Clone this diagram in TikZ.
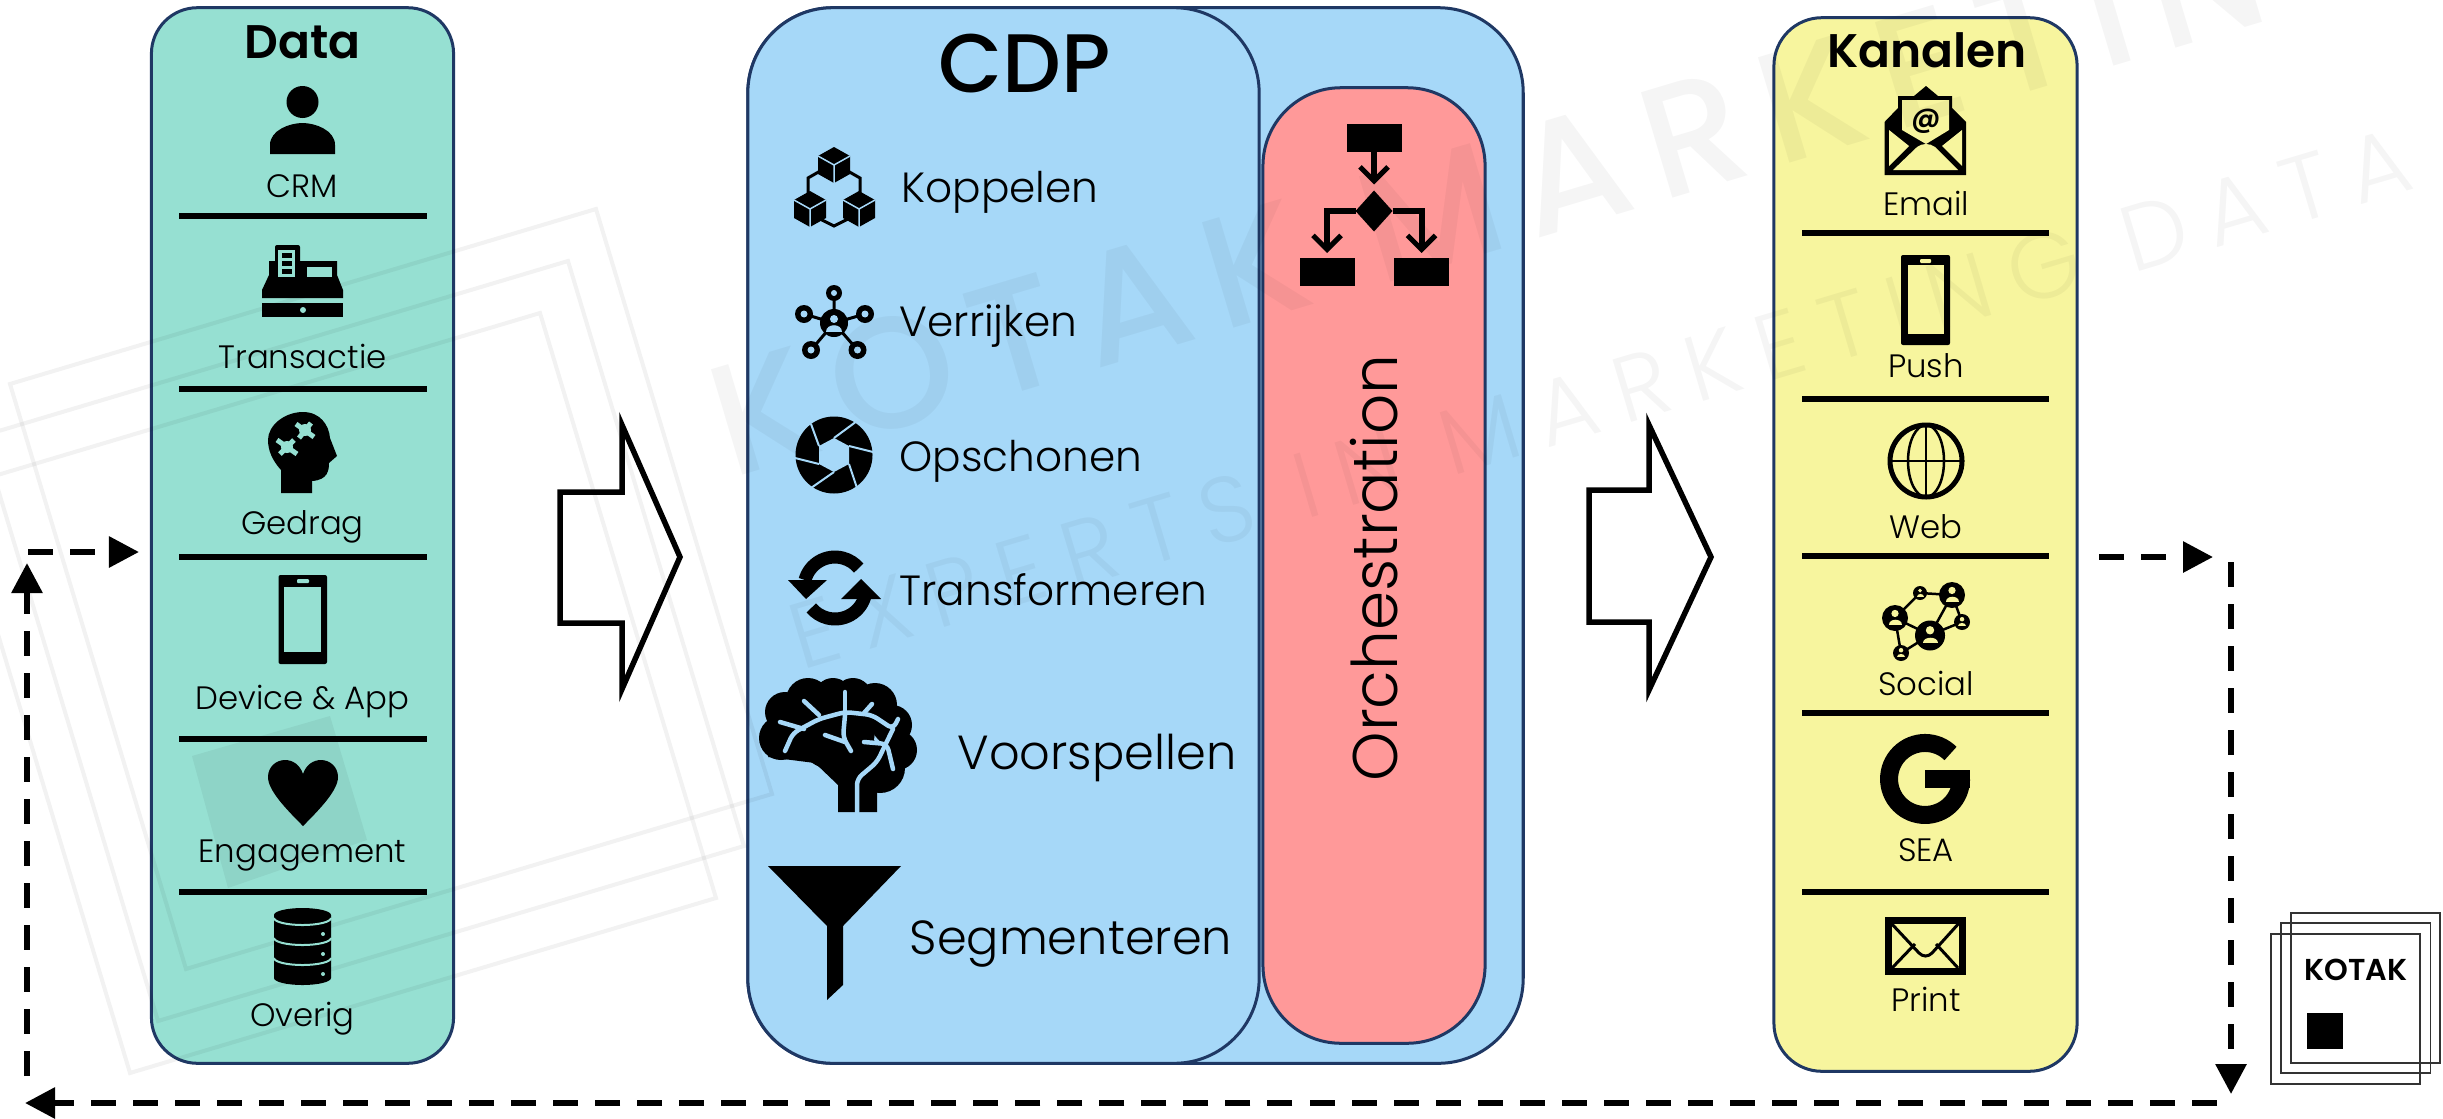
\documentclass[tikz,border=0pt]{standalone}
\usepackage{fontspec}
\usetikzlibrary{arrows.meta,shapes.geometric}
\setmainfont{Poppins Light}[BoldFont=Poppins SemiBold]
\newfontfamily\markfont{Poppins Medium}[LetterSpace=14]
\newfontfamily\marklight{Poppins Light}[LetterSpace=22]
\newfontfamily\midfont{Poppins Medium}
\definecolor{datacol}{HTML}{96E0D2}
\definecolor{cdpcol}{HTML}{A6D8F8}
\definecolor{orchcol}{HTML}{FF9999}
\definecolor{chancol}{HTML}{F7F59E}
\definecolor{edgecol}{HTML}{1F3864}
\tikzset{
    panel/.style={draw=edgecol, line width=0.03cm, inner sep=0pt, outer sep=0pt},
    divider/.style={line width=0.06cm},
    itemlabel/.style={inner sep=0pt, text height=0.72em, text depth=0.22em, font=\fontsize{9.2}{11}\selectfont},
    cdplabel/.style={inner sep=0pt, anchor=west, text height=0.72em, text depth=0.22em, font=\fontsize{12}{15}\selectfont},
    cdplarge/.style={cdplabel, font=\fontsize{13.6}{16}\selectfont},
    titlelabel/.style={inner sep=0pt, font=\fontsize{13.4}{15}\selectfont\bfseries},
    bigarrow/.style={draw=black, fill=white, line width=0.055cm, miter limit=20},
    loopline/.style={-{Triangle[length=0.3cm,width=0.3cm]}, line width=0.06cm, dash pattern=on 0.25cm off 0.17cm},
    flowbox/.style={fill=black, minimum width=0.55cm, minimum height=0.28cm, inner sep=0pt, outer sep=0pt},
    flowarrow/.style={-{Straight Barb[length=0.14cm,width=0.28cm,line width=0.05cm]}, line width=0.06cm},
    wmline/.style={black, opacity=0.05, line width=0.04cm},
    wmtext/.style={black, text opacity=0.04, inner sep=0pt},
    logorect/.style={draw=black!80, line width=0.018cm},
    veinline/.style={cdpcol, line width=0.045cm, line cap=round, line join=round, rounded corners=0.06cm},
    cubeicon/.pic={
        \fill (0,-18) -- (16,-9) -- (16,9) -- (0,18) -- (-16,9) -- (-16,-9) -- cycle;
        \draw[cdpcol, line width=0.015cm] (-16,-9) -- (0,0) -- (16,-9) (0,0) -- (0,18);
    },
    socialicon/.pic={
        \fill (0,0) circle (1);
        \fill[chancol] (0,-0.35) circle (0.28);
        \fill[chancol] (-0.5,0.5) .. controls (-0.5,0) and (0.5,0) .. (0.5,0.5) -- cycle;
    },
}

\begin{document}
\begin{tikzpicture}[x=0.01cm, y=-0.01cm]
    \useasboundingbox (0,0) rectangle (2443,1118);

    % columns
    \node (data) [panel, fill=datacol, rounded corners=0.46cm, minimum width=3.02cm, minimum height=10.55cm] at (302.5,535.5) {};
    \node (outer) [panel, fill=cdpcol, rounded corners=0.85cm, minimum width=7.75cm, minimum height=10.55cm] at (1135.5,535.5) {};
    \node (cdp) [panel, fill=cdpcol, rounded corners=0.85cm, minimum width=5.11cm, minimum height=10.55cm] at (1003.5,535.5) {};
    \node (orch) [panel, fill=orchcol, rounded corners=0.78cm, minimum width=2.22cm, minimum height=9.55cm] at (1374,565.5) {};
    \node (chan) [panel, fill=chancol, rounded corners=0.48cm, minimum width=3.03cm, minimum height=10.53cm] at (1925.5,544.5) {};

    % big arrows
    \draw[bigarrow] (560,492) -- (622,492) -- (622,425) -- (680,557) -- (622,689) -- (622,623) -- (560,623) -- cycle;
    \draw[bigarrow] (1589,490) -- (1649,490) -- (1649,425) -- (1711,557) -- (1649,690) -- (1649,622) -- (1589,622) -- cycle;

    % data column
    \node (datatitle) [titlelabel] at (302.5,42) {Data};
    \node (crm) [itemlabel] at (302.5,189) {CRM};
    \node (trans) [itemlabel] at (302.5,360) {Transactie};
    \node (gedrag) [itemlabel] at (302.5,526) {Gedrag};
    \node (device) [itemlabel] at (302.5,701) {Device \& App};
    \node (engage) [itemlabel] at (302.5,854) {Engagement};
    \node (overig) [itemlabel] at (302.5,1018) {Overig};
    \draw[divider] (179,216) -- (427,216);
    \draw[divider] (179,389) -- (427,389);
    \draw[divider] (179,557) -- (427,557);
    \draw[divider] (179,739) -- (427,739);
    \draw[divider] (179,892) -- (427,892);

    % person
    \fill (302.5,102) circle (16);
    \fill (270,154) -- (270,145) .. controls (270,130) and (290,123) .. (302.5,123) .. controls (315,123) and (335,130) .. (335,145) -- (335,154) -- cycle;
    % till
    \fill[rounded corners=0.02cm] (275,245) rectangle (300,270);
    \fill (262,298) -- (262,290) -- (269,275) -- (269,261) -- (337,261) -- (337,275) -- (343,290) -- (343,298) -- cycle;
    \fill (262,303) rectangle (343,317);
    \fill[datacol] (278,250) rectangle (295,277);
    \fill (282,253) rectangle (292,258);
    \fill (282,261) rectangle (292,266);
    \fill (282,269) rectangle (292,274);
    \fill[datacol] (307,267) rectangle (332,277);
    \fill[datacol] (303,310) circle (3);
    % head with puzzle pieces
    \fill (281,493) -- (281,470) .. controls (272,460) and (268,450) .. (268,440) .. controls (268,425) and (285,412) .. (303,412) .. controls (320,412) and (329,425) .. (330,438) -- (337,456) -- (329,463) .. controls (329,470) and (328,480) .. (312,481) -- (312,493) -- cycle;
    \draw[datacol, line width=0.05cm] (277,440) -- (297,454) (280,454) -- (294,440);
    \draw[datacol, line width=0.05cm] (296,424) -- (314,437) (299,438) -- (311,423);
    \fill[datacol] (287,447) circle (6);
    \fill[datacol] (305,430) circle (6);
    % phone
    \fill[rounded corners=0.02cm] (278.5,575) rectangle (327,664);
    \fill[datacol] (284,587) rectangle (321,652);
    \fill[datacol, rounded corners=0.01cm] (297,579) rectangle (309,583);
    % heart
    \fill (303,826) .. controls (285,808) and (268,790) .. (268,777) .. controls (268,767) and (276,760) .. (285,760) .. controls (293,760) and (300,765) .. (303,774) .. controls (306,765) and (313,760) .. (321,760) .. controls (330,760) and (338,767) .. (338,777) .. controls (338,790) and (321,808) .. (303,826);
    % database
    \fill (302.5,915) ellipse (28.5 and 7);
    \fill (274,915) -- (274,978) arc[start angle=180, end angle=0, x radius=28.5, y radius=7] -- (331,915) -- cycle;
    \draw[datacol, line width=0.02cm] (274,918) arc[start angle=180, end angle=0, x radius=28.5, y radius=7];
    \draw[datacol, line width=0.02cm] (274,938) arc[start angle=180, end angle=0, x radius=28.5, y radius=7];
    \draw[datacol, line width=0.02cm] (274,958) arc[start angle=180, end angle=0, x radius=28.5, y radius=7];
    \fill[datacol] (323,934) circle (2);
    \fill[datacol] (323,954) circle (2);
    \fill[datacol] (323,974) circle (2);

    % cdp column
    \node (cdptitle) [inner sep=0pt, font=\fontsize{23.6}{26}\selectfont\midfont] at (1025,64) {CDP};
    \node (koppelen) [cdplabel] at (901,194) {Koppelen};
    \node (verrijken) [cdplabel] at (899,328) {Verrijken};
    \node (opschonen) [cdplabel] at (899,463) {Opschonen};
    \node (transform) [cdplabel] at (899,597) {Transformeren};
    \node (voorspel) [cdplarge] at (957,761) {Voorspellen};
    \node (segment) [cdplarge] at (909,946) {Segmenteren};
    % cubes
    \pic at (834,165) {cubeicon};
    \pic at (810,209) {cubeicon};
    \pic at (859,209) {cubeicon};
    \draw[line width=0.03cm] (822,170) -- (808,178) -- (808,196);
    \draw[line width=0.03cm] (846,170) -- (860,178) -- (860,196);
    \draw[line width=0.03cm] (818,218) -- (834,226) -- (850,218);
    % network
    \draw[line width=0.03cm] (834,291) -- (834,323) -- (804,314);
    \draw[line width=0.03cm] (811,350) -- (834,323) -- (865,314);
    \draw[line width=0.03cm] (834,323) -- (857.5,350);
    \fill (834,323) circle (14);
    \fill (834,293) circle (8);
    \fill (804,314) circle (9);
    \fill (865,314) circle (9);
    \fill (811,350) circle (9);
    \fill (857.5,350) circle (9);
    \fill[cdpcol] (834,319) circle (4);
    \fill[cdpcol] (826,332) .. controls (826,323) and (842,323) .. (842,332) -- cycle;
    \fill[cdpcol] (834,293) circle (3);
    \fill[cdpcol] (804,314) circle (3.5);
    \fill[cdpcol] (865,314) circle (3.5);
    \fill[cdpcol] (811,350) circle (3.5);
    \fill[cdpcol] (857.5,350) circle (3.5);
    % aperture
    \fill (834,455) circle (38.5);
    \draw[cdpcol, line width=0.02cm] (819,446) -- (811,424) (834,438) -- (857,421) (849,446) -- (873,452) (849,464) -- (857,488) (834,472) -- (811,488) (819,464) -- (795,458);
    \fill[cdpcol] (819,446) -- (834,438) -- (849,446) -- (849,464) -- (834,472) -- (819,464) -- cycle;
    % refresh
    \draw[line width=0.13cm] (805,580) arc[start angle=195, end angle=320, radius=31];
    \draw[line width=0.13cm] (865,596) arc[start angle=15, end angle=140, radius=31];
    \fill (788,580) -- (827,580) -- (806,599) -- cycle;
    \fill (841,599) -- (881,599) -- (861,579) -- cycle;
    % brain
    \fill (781,738) circle (22);
    \fill (785,712) circle (20);
    \fill (808,700) circle (22);
    \fill (833,697) circle (19);
    \fill (853,697) circle (19);
    \fill (875,705) circle (22);
    \fill (892,725) circle (20);
    \fill (897,750) circle (20);
    \fill (880,768) circle (25);
    \fill (835,730) circle (40);
    \fill (768,757) -- (815,763) -- (838,785) -- (838,812) -- (877,812) -- (877,790) -- (895,770) -- (860,720) -- (790,720) -- cycle;
    \draw[veinline] (857,812) -- (857,779) -- (877,762) -- (893,729);
    \draw[veinline] (785,751) -- (793,733) -- (819,719) -- (845,712) -- (872,715) -- (893,729) -- (898,719);
    \draw[veinline] (845,712) -- (845,692);
    \draw[veinline] (804,701) -- (819,715);
    \draw[veinline] (780,722) -- (804,729);
    \draw[veinline] (872,704) -- (864,713);
    \draw[veinline] (845,715) -- (843,737) -- (851,751);
    \draw[veinline] (825,735) -- (845,742);
    \draw[veinline] (864,742) -- (887,744) -- (893,769);
    % funnel
    \fill (768,866) -- (901,866) -- (843,926) -- (843,985) -- (827,1000) -- (827,926) -- cycle;

    % orchestration
    \node (orchlabel) [rotate=90, inner sep=0pt, font=\fontsize{17.9}{21}\selectfont] at (1374,568) {Orchestration};
    \node (flowtop) [flowbox] at (1374,138) {};
    \node (flowdec) [diamond, aspect=1, fill=black, minimum width=0.37cm, minimum height=0.41cm, inner sep=0pt, outer sep=0pt] at (1374,211) {};
    \node (flowleft) [flowbox] at (1327,272) {};
    \node (flowright) [flowbox] at (1421.5,272) {};
    \draw[flowarrow, shorten >=0.06cm] (flowtop) -- (flowdec);
    \draw[flowarrow, shorten >=0.05cm] (flowdec.west) -| (flowleft.north);
    \draw[flowarrow, shorten >=0.05cm] (flowdec.east) -| (flowright.north);

    % channel column
    \node (chantitle) [titlelabel] at (1927,50) {Kanalen};
    \node (email) [itemlabel] at (1926,207) {Email};
    \node (push) [itemlabel] at (1926,369) {Push};
    \node (web) [itemlabel] at (1926,530) {Web};
    \node (social) [itemlabel] at (1926,687) {Social};
    \node (sea) [itemlabel] at (1926,853) {SEA};
    \node (print) [itemlabel] at (1926,1003) {Print};
    \draw[divider] (1802,233) -- (2049,233);
    \draw[divider] (1802,399) -- (2049,399);
    \draw[divider] (1802,556) -- (2049,556);
    \draw[divider] (1802,713) -- (2049,713);
    \draw[divider] (1802,892) -- (2049,892);

    % open envelope
    \fill (1884.5,175) -- (1884.5,122) -- (1898,108) -- (1898,96) -- (1914,96) -- (1926,86) -- (1938,96) -- (1952,96) -- (1952,108) -- (1966,122) -- (1966,175) -- cycle;
    \fill[chancol] (1902,100) -- (1949,100) -- (1949,130) -- (1926,144) -- (1902,130) -- cycle;
    \fill[chancol] (1889,130) -- (1909,146) -- (1889,166) -- cycle;
    \fill[chancol] (1962,130) -- (1942,146) -- (1962,166) -- cycle;
    \fill[chancol] (1893,170) -- (1917,147) .. controls (1922,143) and (1930,143) .. (1935,147) -- (1958,170) -- cycle;
    \node (atsign) [inner sep=0pt, font=\fontsize{8}{9}\selectfont\bfseries] at (1926,121) {@};
    % phone
    \fill[rounded corners=0.02cm] (1901,255) rectangle (1950,345);
    \fill[chancol] (1907.5,265) rectangle (1944,334);
    \fill[chancol, rounded corners=0.01cm] (1920,259) rectangle (1931,263);
    % globe
    \draw[line width=0.05cm] (1926,461) ellipse (36 and 36);
    \draw[line width=0.025cm] (1926,461) ellipse (18 and 36);
    \draw[line width=0.025cm] (1926,425) -- (1926,497);
    \draw[line width=0.025cm] (1890,461) -- (1962,461);
    % social network
    \draw[line width=0.025cm] (1920,593) -- (1952,595) -- (1930,635) -- (1895,618) -- (1920,593);
    \draw[line width=0.025cm] (1952,595) -- (1962,622) -- (1930,635) -- (1901,653) -- (1895,618);
    \pic[scale=7] at (1920,593) {socialicon};
    \pic[scale=13] at (1952,595) {socialicon};
    \pic[scale=13] at (1895,618) {socialicon};
    \pic[scale=15] at (1930,635.5) {socialicon};
    \pic[scale=8] at (1962,622) {socialicon};
    \pic[scale=8] at (1901,653) {socialicon};
    % G
    \draw[line width=0.18cm] (1950.5,753.5) arc[start angle=315, end angle=0, radius=36];
    \fill (1925,770) rectangle (1970,788);
    % closed envelope
    \draw[line width=0.07cm] (1888,920) rectangle (1962,971);
    \draw[line width=0.03cm] (1890,922) -- (1919,953) .. controls (1923,957) and (1928,957) .. (1932,953) -- (1960,922);
    \draw[line width=0.03cm] (1892,968) -- (1915,944);
    \draw[line width=0.03cm] (1958,968) -- (1936,944);

    % feedback loop
    \coordinate (chanout) at (2099,557);
    \coordinate (chanend) at (2213,557);
    \coordinate (downstart) at (2231,562);
    \coordinate (downend) at (2231,1094);
    \coordinate (backstart) at (2217,1103);
    \coordinate (backend) at (25,1103);
    \coordinate (upstart) at (27,1076);
    \coordinate (upend) at (27,563);
    \coordinate (instart) at (28,552);
    \coordinate (inend) at (139,552);
    \draw[loopline] (chanout) -- (chanend);
    \draw[loopline] (downstart) -- (downend);
    \draw[loopline] (backstart) -- (backend);
    \draw[loopline] (upstart) -- (upend);
    \draw[loopline] (instart) -- (inend);

    % logo
    \draw[logorect] (2291,913) rectangle (2440,1063);
    \draw[logorect] (2281,923) rectangle (2430.5,1073);
    \draw[logorect] (2271,934) rectangle (2420,1084);
    \node (logotext) [inner sep=0pt, font=\fontsize{8.6}{10}\selectfont\bfseries] at (2356,970) {KOTAK};
    \fill (2307,1013) rectangle (2343,1049);

    % watermark
    \draw[wmline] (10,384) -- (596,209) -- (772,794) -- (186,969) -- cycle;
    \draw[wmline] (-18,436) -- (568,261) -- (744,846) -- (158,1021) -- cycle;
    \draw[wmline] (-46,488) -- (540,313) -- (716,898) -- (130,1073) -- cycle;
    \fill[black, opacity=0.05] (192,756) -- (330,716) -- (367,840) -- (228,888) -- cycle;
    \node (markbig) [wmtext, rotate=16.6, font=\fontsize{45}{50}\selectfont\markfont] at (1556,175) {KOTAK MARKETING};
    \node (marksmall) [wmtext, rotate=16.6, font=\fontsize{26.5}{30}\selectfont\marklight] at (1600,398) {EXPERTS IN MARKETING DATA};
\end{tikzpicture}
\end{document}
